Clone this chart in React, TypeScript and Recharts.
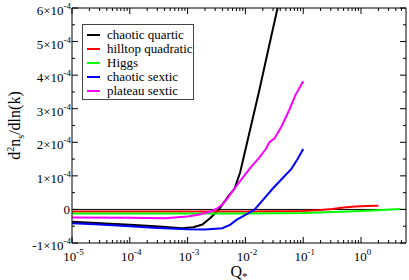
import React from 'react';
import { LineChart, Line, XAxis, YAxis, ReferenceLine, Legend } from 'recharts';

// ---- data (Q_* on a log axis, values of d^2 n_s / d ln k) ----
const chaoticQuarticQ = [1e-5, 1e-4, 3.2e-4, 8e-4, 1.25e-3, 1.8e-3, 2.5e-3, 3.5e-3, 5e-3, 6.5e-3, 8.1e-3, 1e-2, 1.74e-2, 2.5e-2, 3.6e-2, 4e-2];
const chaoticQuarticV = [-0.37e-4, -0.46e-4, -0.51e-4, -0.56e-4, -0.53e-4, -0.45e-4, -0.25e-4, 0, 0.38e-4, 0.62e-4, 1.1e-4, 1.78e-4, 3.55e-4, 4.78e-4, 6.0e-4, 6.3e-4];

const hilltopQuadraticQ = [1e-5, 1e-3, 1e-2, 0.1, 0.2, 0.32, 0.5, 0.8, 1.26, 2];
const hilltopQuadraticV = [-0.06e-4, -0.06e-4, -0.06e-4, -0.05e-4, -0.02e-4, 0.01e-4, 0.06e-4, 0.09e-4, 0.1e-4, 0.11e-4];

const higgsQ = [1e-5, 1e-2, 0.1, 0.32, 0.6, 1.6, 4.8];
const higgsV = [-0.12e-4, -0.12e-4, -0.11e-4, -0.08e-4, -0.06e-4, -0.03e-4, 0.01e-4];

const chaoticSexticQ = [1e-5, 3e-5, 1e-4, 3e-4, 1e-3, 2e-3, 4e-3, 5.5e-3, 7e-3, 1e-2, 1.45e-2, 2e-2, 3e-2, 4.5e-2, 6.2e-2, 8e-2, 0.1];
const chaoticSexticV = [-0.41e-4, -0.45e-4, -0.5e-4, -0.55e-4, -0.59e-4, -0.6e-4, -0.56e-4, -0.45e-4, -0.31e-4, -0.16e-4, 0, 0.28e-4, 0.63e-4, 0.95e-4, 1.2e-4, 1.5e-4, 1.8e-4];

const plateauSexticQ = [1e-5, 1e-4, 4e-4, 1e-3, 1.6e-3, 2.5e-3, 3.2e-3, 4e-3, 5e-3, 6e-3, 1e-2, 1.3e-2, 1.75e-2, 2.25e-2, 2.6e-2, 3.2e-2, 4.2e-2, 5.75e-2, 7.4e-2, 0.1];
const plateauSexticV = [-0.24e-4, -0.25e-4, -0.26e-4, -0.21e-4, -0.15e-4, -0.06e-4, 0.02e-4, 0.15e-4, 0.35e-4, 0.55e-4, 1.05e-4, 1.3e-4, 1.55e-4, 1.8e-4, 2.0e-4, 2.12e-4, 2.47e-4, 2.97e-4, 3.42e-4, 3.82e-4];

const xTicks = [
  1e-5, 2e-5, 3e-5, 4e-5, 5e-5, 6e-5, 7e-5, 8e-5, 9e-5,
  1e-4, 2e-4, 3e-4, 4e-4, 5e-4, 6e-4, 7e-4, 8e-4, 9e-4,
  1e-3, 2e-3, 3e-3, 4e-3, 5e-3, 6e-3, 7e-3, 8e-3, 9e-3,
  1e-2, 2e-2, 3e-2, 4e-2, 5e-2, 6e-2, 7e-2, 8e-2, 9e-2,
  0.1, 0.2, 0.3, 0.4, 0.5, 0.6, 0.7, 0.8, 0.9,
  1, 2, 3, 4, 5,
];
const yTicks = [-1e-4, -5e-5, 0, 5e-5, 1e-4, 1.5e-4, 2e-4, 2.5e-4, 3e-4, 3.5e-4, 4e-4, 4.5e-4, 5e-4, 5.5e-4, 6e-4];

const xDomain = [1e-5, 6];
const yDomain = [-1e-4, 6e-4];

const series = [
  { name: 'chaotic quartic', color: '#000000', q: chaoticQuarticQ, v: chaoticQuarticV },
  { name: 'hilltop quadratic', color: '#ff0000', q: hilltopQuadraticQ, v: hilltopQuadraticV },
  { name: 'Higgs', color: '#00ff00', q: higgsQ, v: higgsV },
  { name: 'chaotic sextic', color: '#0000ff', q: chaoticSexticQ, v: chaoticSexticV },
  { name: 'plateau sextic', color: '#ff00ff', q: plateauSexticQ, v: plateauSexticV },
];

const FONT = "Liberation Serif, Tinos, Times New Roman, Times, DejaVu Serif, serif";

const isMajorX = (v: number) => {
  const l = Math.log10(v);
  return Math.abs(l - Math.round(l)) < 1e-9;
};
const isMajorY = (v: number) => {
  const n = v * 1e4;
  return Math.abs(n - Math.round(n)) < 1e-6;
};

const BottomTick = (props: any) => {
  const { x, y, payload } = props;
  const v = payload.value;
  const major = isMajorX(v);
  const e = Math.round(Math.log10(v));
  return (
    <g>
      <line x1={x} x2={x} y1={y} y2={y - (major ? 6 : 3)} stroke="#000" strokeWidth={1} />
      {major && (
        <text x={x + 1.5} y={y + 17.5} textAnchor="middle" style={{ fontFamily: FONT }} fontSize={13} fill="#000">
          10<tspan dy={-6} fontSize={9}>{String(e)}</tspan>
        </text>
      )}
    </g>
  );
};

const TopTick = (props: any) => {
  const { x, y, payload } = props;
  const major = isMajorX(payload.value);
  return <line x1={x} x2={x} y1={y} y2={y + (major ? 6 : 3)} stroke="#000" strokeWidth={1} />;
};

const LeftTick = (props: any) => {
  const { x, y, payload } = props;
  const v = payload.value;
  const major = isMajorY(v);
  const n = Math.round(v * 1e4);
  return (
    <g>
      <line x1={x} x2={x + (major ? 6 : 3)} y1={y} y2={y} stroke="#000" strokeWidth={1} />
      {major && n === 0 && (
        <text x={x - 2} y={y + 4.5} textAnchor="end" style={{ fontFamily: FONT }} fontSize={13} fill="#000">0</text>
      )}
      {major && n !== 0 && (
        <text x={x - 1} y={y + 7} textAnchor="end" style={{ fontFamily: FONT }} fontSize={13} fill="#000">
          {`${n}×10`}<tspan dy={-6} fontSize={9}>-4</tspan>
        </text>
      )}
    </g>
  );
};

const RightTick = (props: any) => {
  const { x, y, payload } = props;
  const major = isMajorY(payload.value);
  return <line x1={x} x2={x - (major ? 6 : 3)} y1={y} y2={y} stroke="#000" strokeWidth={1} />;
};

const XTitle = (props: any) => {
  const { viewBox } = props;
  const cx = viewBox.x + viewBox.width / 2;
  return (
    <text x={cx} y={276.5} textAnchor="middle" style={{ fontFamily: FONT }} fontSize={16} fill="#000">
      Q<tspan dy={3} fontSize={11}>*</tspan>
    </text>
  );
};

const YTitle = (props: any) => {
  const { viewBox } = props;
  const cy = viewBox.y + viewBox.height / 2;
  const bx = 19.5;
  return (
    <text x={bx} y={cy} transform={`rotate(-90 ${bx} ${cy})`} textAnchor="middle" style={{ fontFamily: FONT }} fontSize={16} fill="#000">
      d<tspan dy={-6} fontSize={10}>2</tspan><tspan dy={6}>n</tspan><tspan dy={4} fontSize={10}>s</tspan><tspan dy={-4}>/dln(k)</tspan>
    </text>
  );
};

const LegendBox = () => (
  <div
    style={{
      width: 112,
      height: 76,
      boxSizing: 'border-box',
      border: '1px solid #444',
      background: '#fff',
      paddingTop: 3,
      fontFamily: FONT,
      fontSize: 13,
      color: '#000',
    }}
  >
    {series.map((s) => (
      <div key={s.name} style={{ height: 14, lineHeight: '14px', display: 'flex', alignItems: 'center', whiteSpace: 'nowrap' }}>
        <div style={{ width: 4 }} />
        <div style={{ width: 13, height: 2, background: s.color }} />
        <div style={{ width: 7 }} />
        <span>{s.name}</span>
      </div>
    ))}
  </div>
);

export default function App() {
  return (
    <div style={{ position: 'absolute', left: 0, top: 0, width: 409, height: 280, background: '#fff', fontFamily: FONT }}>
      <LineChart width={409} height={280} margin={{ top: 0, right: 0, bottom: 0, left: 0 }}>
        <XAxis
          xAxisId="b"
          dataKey="q"
          type="number"
          scale="log"
          domain={xDomain}
          allowDataOverflow
          ticks={xTicks}
          interval={0}
          tick={<BottomTick />}
          tickLine={false}
          tickSize={0}
          tickMargin={0}
          height={37}
          axisLine={{ stroke: '#000', strokeWidth: 1 }}
          label={<XTitle />}
        />
        <XAxis
          xAxisId="t"
          orientation="top"
          dataKey="q"
          type="number"
          scale="log"
          domain={xDomain}
          allowDataOverflow
          ticks={xTicks}
          interval={0}
          tick={<TopTick />}
          tickLine={false}
          tickSize={0}
          tickMargin={0}
          height={8}
          axisLine={{ stroke: '#000', strokeWidth: 1 }}
        />
        <YAxis
          yAxisId="l"
          type="number"
          domain={yDomain}
          allowDataOverflow
          ticks={yTicks}
          interval={0}
          tick={<LeftTick />}
          tickLine={false}
          tickSize={0}
          tickMargin={0}
          width={72}
          axisLine={{ stroke: '#000', strokeWidth: 1 }}
          label={<YTitle />}
        />
        <YAxis
          yAxisId="r"
          orientation="right"
          type="number"
          domain={yDomain}
          allowDataOverflow
          ticks={yTicks}
          interval={0}
          tick={<RightTick />}
          tickLine={false}
          tickSize={0}
          tickMargin={0}
          width={3}
          axisLine={{ stroke: '#000', strokeWidth: 1 }}
        />
        <ReferenceLine xAxisId="b" yAxisId="l" y={0} stroke="#000" strokeWidth={1} />
        {series.map((s) => (
          <Line
            key={s.name}
            xAxisId="b"
            yAxisId="l"
            data={s.q.map((q, i) => ({ q, v: s.v[i] }))}
            dataKey="v"
            name={s.name}
            type="linear"
            stroke={s.color}
            strokeWidth={2}
            dot={false}
            activeDot={false}
            isAnimationActive={false}
          />
        ))}
        <Legend
          layout="vertical"
          align="center"
          verticalAlign="middle"
          wrapperStyle={{ left: 82, top: 24, width: 112, height: 76, margin: 0 }}
          content={<LegendBox />}
        />
      </LineChart>
    </div>
  );
}
